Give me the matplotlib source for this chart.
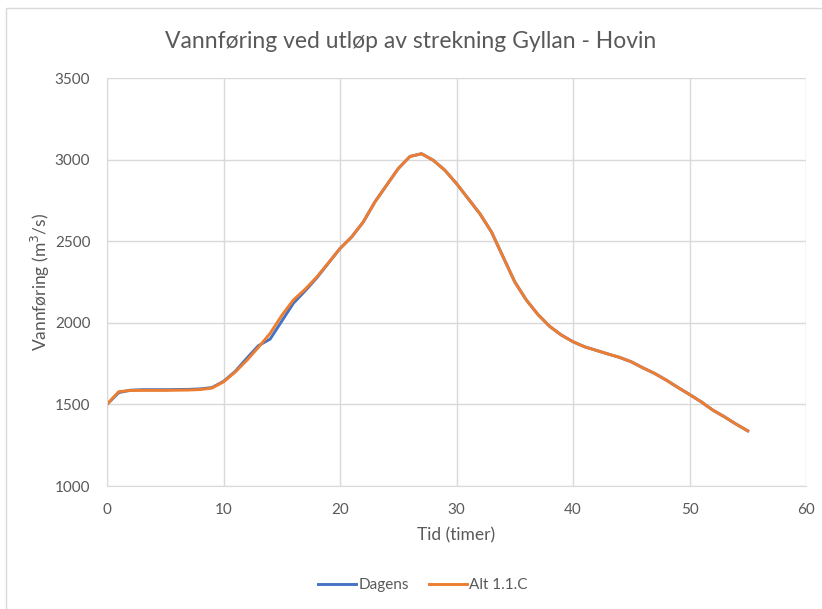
import matplotlib
matplotlib.use("Agg")
import matplotlib.pyplot as plt
from matplotlib.patches import Rectangle

plt.rcParams['font.family'] = ['Lato', 'DejaVu Sans']

hours = list(range(0, 56))
dagens = [1500, 1572, 1587, 1590, 1590, 1590, 1591, 1592, 1595, 1603,
          1641, 1702, 1783, 1860, 1900, 2010, 2120, 2195, 2275, 2365,
          2455, 2526, 2618, 2741, 2843, 2945, 3019, 3036, 2996, 2935,
          2853, 2761, 2669, 2557, 2404, 2251, 2139, 2050, 1978, 1925,
          1884, 1853, 1831, 1809, 1788, 1761, 1724, 1690, 1649, 1604,
          1561, 1516, 1465, 1424, 1379, 1338]
alt_11c = [1500, 1578, 1585, 1586, 1586, 1586, 1587, 1588, 1591, 1600,
           1638, 1698, 1770, 1850, 1935, 2045, 2140, 2205, 2280, 2367,
           2455, 2526, 2618, 2741, 2843, 2945, 3019, 3036, 2996, 2935,
           2853, 2761, 2669, 2557, 2404, 2251, 2139, 2050, 1978, 1925,
           1884, 1853, 1831, 1809, 1788, 1761, 1724, 1690, 1649, 1604,
           1561, 1516, 1465, 1424, 1379, 1338]

title = "Vannføring ved utløp av strekning Gyllan - Hovin"
xlabel = "Tid (timer)"
ylabel = "Vannføring (m$^3$/s)"
series_names = ["Dagens", "Alt 1.1.C"]
xticks = [0, 10, 20, 30, 40, 50, 60]
yticks = [1000, 1500, 2000, 2500, 3000, 3500]

W, H = 822, 609
fig = plt.figure(figsize=(W / 100, H / 100), dpi=100)
ax = fig.add_axes([107 / W, 1 - 486 / H, (806 - 107) / W, (486 - 78) / H])

grid_c = '#d9d9d9'
text_c = '#595959'

ax.plot(hours, dagens, color='#4472C4', lw=2.1, label=series_names[0], solid_joinstyle='round')
ax.plot(hours, alt_11c, color='#ED7D31', lw=2.1, label=series_names[1], solid_joinstyle='round')

ax.set_xlim(0, 60)
ax.set_ylim(1000, 3500)
ax.set_xticks(xticks)
ax.set_yticks(yticks)
ax.grid(True, color=grid_c, lw=1.0)
ax.set_axisbelow(True)
for s in ax.spines.values():
    s.set_visible(False)
ax.spines['left'].set_visible(True)
ax.spines['bottom'].set_visible(True)
ax.spines['left'].set_color(grid_c)
ax.spines['bottom'].set_color(grid_c)
ax.tick_params(length=0, pad=12, labelsize=11, labelcolor=text_c)

ax.set_xlabel(xlabel, fontsize=12.5, color=text_c, labelpad=8)
ax.set_ylabel(ylabel, fontsize=12.5, color=text_c, labelpad=2)

fig.text(411 / W, 1 - 41 / H, title, ha='center', va='center', fontsize=16.5, color=text_c)

leg = fig.legend(loc='center', bbox_to_anchor=(423 / W, 1 - 585 / H), ncol=2, frameon=False,
                 fontsize=11, handlelength=2.5, columnspacing=1.3, handletextpad=0.15)
for t in leg.get_texts():
    t.set_color(text_c)

fig.patches.append(Rectangle((6 / W, -0.1), 1.2, 1 - 8 / H + 0.1, transform=fig.transFigure,
                             fill=False, edgecolor=grid_c, lw=1.0))

fig.savefig('out.png', dpi=100, facecolor='white')
